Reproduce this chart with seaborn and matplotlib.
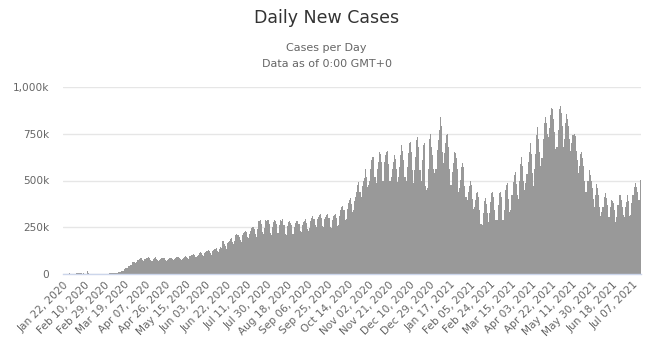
import matplotlib
matplotlib.use("Agg")
import matplotlib.pyplot as plt
import numpy as np
import pandas as pd
import seaborn as sns
from matplotlib.ticker import FuncFormatter

# daily new cases, thousands
jan20 = [0.0, 0.1, 0.3, 0.5, 0.7, 0.8, 2.7, 0.6, 2.1, 1.7]
feb20 = [2.1, 2.6, 2.8, 3.2, 3.9, 3.7, 3.2, 3.4, 2.6, 2.9, 2.5, 2.0, 15.1, 6.5, 2.6,
         2.1, 2.0, 1.9, 1.8, 0.6, 1.0, 1.0, 0.5, 0.6, 0.8, 0.9, 1.1, 1.4, 1.8]
mar20 = [2.0, 1.9, 2.4, 2.3, 2.8, 3.9, 4.0, 3.9, 3.8, 4.6, 7.3, 7.5, 10.9, 10.7, 12.6, 14.0,
         15.6, 18.0, 29.0, 31.9, 29.6, 33.9, 41.0, 42.4, 49.7, 62.4, 64.6, 64.2, 60.0, 64.8, 77.0]
apr20 = [75, 80, 83, 88, 76, 70, 78, 81, 85, 90, 84, 75, 70, 72, 80, 86, 90, 82, 76, 72,
         74, 78, 84, 88, 86, 76, 70, 74, 79, 84]
may20 = [88, 84, 78, 76, 80, 88, 90, 92, 86, 78, 74, 82, 88, 92, 96, 92, 84, 82, 94, 98,
         104, 106, 100, 92, 90, 96, 104, 112, 118, 110, 102]
jun20 = [98, 112, 118, 124, 128, 124, 110, 104, 122, 130, 134, 136, 138, 124, 118, 136, 142,
         140, 176, 160, 150, 136, 168, 172, 178, 188, 190, 170, 160, 178]
jul20 = [208, 212, 206, 196, 180, 170, 210, 218, 226, 232, 224, 196, 190, 214, 232, 244, 250,
         238, 212, 200, 238, 284, 286, 288, 268, 226, 216, 248, 290, 284, 290]
aug20 = [270, 220, 210, 254, 280, 290, 284, 266, 220, 218, 262, 290, 286, 292, 264, 216, 206,
         256, 276, 282, 274, 264, 214, 212, 254, 272, 282, 286, 268, 228, 226]
sep20 = [264, 278, 284, 292, 272, 238, 228, 244, 284, 298, 310, 296, 264, 254, 292, 306, 316,
         320, 300, 256, 252, 292, 304, 316, 322, 298, 250, 246, 290, 310]
oct20 = [316, 322, 300, 256, 262, 310, 340, 360, 362, 340, 288, 296, 350, 380, 398, 404, 374,
         330, 342, 392, 414, 440, 476, 494, 440, 412, 470, 500, 516, 564, 520]
nov20 = [466, 475, 500, 564, 609, 623, 623, 520, 485, 564, 600, 653, 640, 600, 500, 500, 600,
         636, 653, 659, 590, 500, 518, 560, 600, 635, 617, 560, 493, 520]
dec20 = [573, 635, 689, 660, 610, 520, 500, 573, 645, 698, 707, 653, 555, 484, 555, 627, 715,
         730, 680, 555, 500, 609, 689, 698, 470, 449, 460, 560, 724, 751, 680]
jan21 = [634, 564, 538, 564, 662, 716, 769, 837, 790, 653, 591, 645, 698, 742, 751, 680, 560,
         476, 545, 591, 653, 645, 618, 560, 440, 460, 502, 573, 591, 573, 470]
feb21 = [413, 395, 440, 470, 500, 476, 400, 345, 360, 395, 431, 440, 413, 342, 270, 262, 324,
         388, 404, 377, 324, 280, 324, 386, 431, 440, 413, 342]
mar21 = [290, 288, 368, 431, 440, 413, 290, 290, 340, 450, 475, 484, 400, 333, 340, 420, 493,
         529, 546, 480, 420, 400, 500, 590, 627, 580, 500, 450, 484, 535, 600]
apr21 = [653, 698, 640, 540, 470, 560, 640, 742, 787, 720, 650, 580, 620, 720, 810, 840, 810,
         750, 730, 780, 850, 890, 885, 830, 760, 670, 680, 770, 880, 897]
may21 = [860, 790, 680, 720, 810, 855, 830, 790, 720, 660, 700, 742, 751, 740, 660, 610, 538,
         580, 640, 653, 620, 575, 500, 440, 440, 500, 555, 530, 500, 460, 400]
jun21 = [360, 420, 480, 460, 420, 360, 310, 330, 360, 413, 431, 404, 370, 306, 306, 360, 395,
         388, 380, 340, 280, 306, 370, 422, 422, 395, 360, 315, 306, 360]
jul21 = [385, 420, 390, 310, 315, 380, 422, 466, 484, 466, 440, 395, 395, 502]

months = [jan20, feb20, mar20, apr20, may20, jun20, jul20, aug20, sep20, oct20, nov20, dec20,
          jan21, feb21, mar21, apr21, may21, jun21, jul21]
cases = np.concatenate([np.array(m, dtype=float) for m in months]) * 1000
dates = pd.date_range("2020-01-22", periods=len(cases), freq="D")
y_ticks = [0, 250000, 500000, 750000, 1000000]
label_step = 19

df = pd.DataFrame({"day": np.arange(len(cases)), "cases": cases})

sns.set_theme(style="white")
plt.rcParams["font.family"] = ["DejaVu Sans"]

fig = plt.figure(figsize=(6.53, 3.57), dpi=100)
ax = fig.add_axes([63 / 653, 83 / 357, 578 / 653, 187 / 357])

sns.barplot(data=df, x="day", y="cases", color="#999999", saturation=1,
            width=1.0, linewidth=0, ax=ax)

ax.set_xlim(-0.5, len(cases) - 0.5)
ax.set_ylim(0, 1000000)
ax.set_yticks(y_ticks)
ax.yaxis.set_major_formatter(FuncFormatter(
    lambda v, _: "0" if v == 0 else f"{int(v / 1000):,}k"))
ax.grid(axis="y", color="#e6e6e6", linewidth=1)
ax.set_axisbelow(True)

pos = np.arange(0, len(cases), label_step)
ax.set_xticks(pos)
ax.set_xticklabels([dates[i].strftime("%b %d, %Y") for i in pos], rotation=45,
                   ha="right", rotation_mode="anchor", fontsize=7.6, color="#666666")
ax.tick_params(axis="y", labelsize=7.6, labelcolor="#666666", length=0, pad=10)
ax.tick_params(axis="x", length=0, pad=4)
ax.set_xlabel("")
ax.set_ylabel("")

for side in ["top", "right", "left"]:
    ax.spines[side].set_visible(False)
ax.spines["bottom"].set_color("#ccd6eb")
ax.spines["bottom"].set_linewidth(1)

fig.text(0.5, 1 - 18 / 357, "Daily New Cases", ha="center", va="center",
         fontsize=12.5, color="#333333")
fig.text(0.5, 1 - 48 / 357, "Cases per Day", ha="center", va="center",
         fontsize=8, color="#666666")
fig.text(0.5, 1 - 64 / 357, "Data as of 0:00 GMT+0", ha="center", va="center",
         fontsize=8, color="#666666")

fig.savefig("out.png", dpi=100)
plt.close(fig)
